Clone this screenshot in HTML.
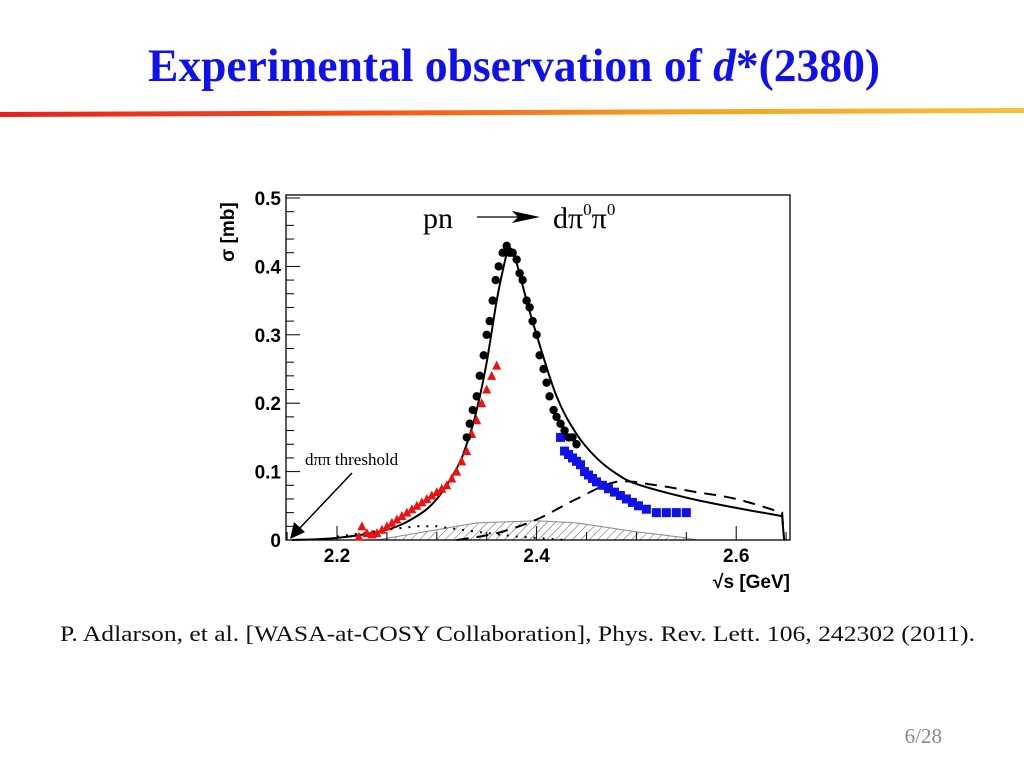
<!DOCTYPE html>
<html><head><meta charset="utf-8"><style>
html,body{margin:0;padding:0;background:#fff;width:1024px;height:768px;overflow:hidden}
svg{display:block}
</style></head><body>
<svg id="s" width="1024" height="768" xmlns="http://www.w3.org/2000/svg">
<defs>
<linearGradient id="lg" x1="0" x2="1" y1="0" y2="0">
<stop offset="0" stop-color="#e8201c"/><stop offset="0.35" stop-color="#f4501a"/><stop offset="0.65" stop-color="#f7a020"/><stop offset="1" stop-color="#f5c23a"/></linearGradient>
<pattern id="hatch" width="6" height="6" patternUnits="userSpaceOnUse" patternTransform="rotate(45)">
<line x1="0" y1="0" x2="0" y2="6" stroke="#333" stroke-width="0.8"/></pattern>
</defs>
<text x="148" y="81" textLength="732" lengthAdjust="spacingAndGlyphs" font-family="Liberation Serif, serif" font-weight="bold" font-size="47" fill="#1010ee">Experimental observation of <tspan font-style="italic">d</tspan>*(2380)</text>
<polygon points="0,112 1024,108 1024,113 0,117" fill="url(#lg)"/>
<g id="plot"></g>
<text x="60" y="641" textLength="915" lengthAdjust="spacingAndGlyphs" font-family="Liberation Serif, serif" font-size="22.5" fill="#111">P. Adlarson, et al. [WASA-at-COSY Collaboration], Phys. Rev. Lett. 106, 242302 (2011).</text>
<text x="942" y="743" text-anchor="end" font-family="Liberation Serif, serif" font-size="21" fill="#888">6/28</text>
</svg>
<script>
const blackX=[2.330,2.333,2.336,2.340,2.343,2.347,2.350,2.353,2.356,2.359,2.362,2.366,2.370,2.373,2.376,2.380,2.383,2.386,2.390,2.393,2.396,2.400,2.403,2.407,2.410,2.413,2.417,2.420,2.424,2.428,2.432,2.436,2.440];
const blackY=[0.15,0.17,0.19,0.21,0.24,0.27,0.30,0.32,0.35,0.38,0.40,0.42,0.43,0.42,0.42,0.41,0.39,0.38,0.35,0.34,0.32,0.30,0.27,0.25,0.23,0.21,0.19,0.18,0.17,0.16,0.15,0.15,0.14];
const redX=[2.222,2.225,2.23,2.235,2.24,2.245,2.25,2.255,2.26,2.265,2.27,2.275,2.28,2.285,2.29,2.295,2.30,2.305,2.31,2.315,2.32,2.325,2.33,2.335,2.34,2.345,2.35,2.355,2.36];
const redY=[0.005,0.02,0.01,0.008,0.01,0.015,0.02,0.025,0.03,0.035,0.04,0.045,0.05,0.055,0.06,0.065,0.07,0.075,0.08,0.09,0.10,0.115,0.13,0.155,0.175,0.2,0.22,0.24,0.255];
const blueX=[2.424,2.428,2.432,2.436,2.44,2.444,2.448,2.452,2.456,2.46,2.466,2.472,2.478,2.484,2.49,2.496,2.502,2.51,2.52,2.53,2.54,2.55];
const blueY=[0.15,0.13,0.125,0.12,0.115,0.11,0.10,0.095,0.09,0.085,0.08,0.075,0.07,0.065,0.06,0.055,0.05,0.045,0.04,0.04,0.04,0.04];
const fitX=[2.155,2.2,2.25,2.28,2.30,2.32,2.33,2.34,2.35,2.36,2.367,2.372,2.378,2.39,2.40,2.42,2.44,2.46,2.48,2.50,2.55,2.60,2.646];
const fitY=[0,0.003,0.015,0.035,0.06,0.105,0.14,0.19,0.26,0.35,0.40,0.425,0.415,0.35,0.30,0.21,0.155,0.12,0.097,0.082,0.062,0.047,0.035];
const dashX=[2.32,2.36,2.40,2.44,2.48,2.52,2.56,2.60,2.646];
const dashY=[0,0.01,0.03,0.06,0.085,0.08,0.07,0.06,0.04];
const dotX=[2.20,2.25,2.28,2.30,2.34,2.38,2.43];
const dotY=[0.005,0.015,0.02,0.02,0.012,0.005,0];
const hatchX=[2.24,2.30,2.34,2.40,2.44,2.50,2.55,2.56];
const hatchY=[0,0.015,0.025,0.028,0.025,0.012,0.003,0];
const yTicks=[0,0.1,0.2,0.3,0.4,0.5];
const yTickLabels=["0","0.1","0.2","0.3","0.4","0.5"];
const xTicks=[2.2,2.4,2.6];
const xTickLabels=["2.2","2.4","2.6"];

const L=286,R=790,T=195,B=540;
const sx=x=>337+(x-2.2)*998;
const sy=y=>B-y*684;
const NS="http://www.w3.org/2000/svg";
const g=document.getElementById('plot');
function mk(tag,attrs,parent){const e=document.createElementNS(NS,tag);for(const k in attrs)e.setAttribute(k,attrs[k]);(parent||g).appendChild(e);return e;}
function pts(xs,ys){return xs.map((x,i)=>sx(x).toFixed(1)+','+sy(ys[i]).toFixed(1)).join(' ');}
function smooth(xs,ys){const P=xs.map((x,i)=>[sx(x),sy(ys[i])]);let d='M'+P[0][0]+','+P[0][1];
for(let i=0;i<P.length-1;i++){const p0=P[Math.max(0,i-1)],p1=P[i],p2=P[i+1],p3=P[Math.min(P.length-1,i+2)];
const c1=[p1[0]+(p2[0]-p0[0])/6,p1[1]+(p2[1]-p0[1])/6],c2=[p2[0]-(p3[0]-p1[0])/6,p2[1]-(p3[1]-p1[1])/6];
d+=` C${c1[0].toFixed(1)},${c1[1].toFixed(1)} ${c2[0].toFixed(1)},${c2[1].toFixed(1)} ${p2[0].toFixed(1)},${p2[1].toFixed(1)}`;}return d;}

let e=mk('polygon',{points:pts(hatchX,hatchY),fill:'url(#hatch)',stroke:'#888','stroke-width':1});



e=mk('rect',{x:L,y:T,width:R-L,height:B-T,fill:'none',stroke:'#000','stroke-width':1.3});



for(let v=0;v<=0.5001;v+=0.02){const big=Math.abs(v*10-Math.round(v*10))<1e-6;mk('line',{x1:L,x2:L+(big?14:8),y1:sy(v),y2:sy(v),stroke:'#000','stroke-width':1});}
for(let v=2.15;v<=2.65;v+=0.05){const big=Math.abs(v*10-Math.round(v*10))<1e-6&&Math.round(v*10)%2==0;mk('line',{x1:sx(v),x2:sx(v),y1:B,y2:B-(big?14:8),stroke:'#000','stroke-width':1});}
yTicks.forEach((v,i)=>{e=mk('text',{x:L-5,y:sy(v)+7,'text-anchor':'end','font-family':'Liberation Sans, sans-serif','font-weight':'bold','font-size':19});e.textContent=yTickLabels[i];

});
xTicks.forEach((v,i)=>{e=mk('text',{x:sx(v),y:B+22,'text-anchor':'middle','font-family':'Liberation Sans, sans-serif','font-weight':'bold','font-size':19});e.textContent=xTickLabels[i];

});

e=mk('text',{x:0,y:0,transform:'translate(234,232) rotate(-90)','text-anchor':'middle','font-family':'Liberation Sans, sans-serif','font-weight':'bold','font-size':19});e.textContent='σ [mb]';


e=mk('text',{x:790,y:588,'text-anchor':'end','font-family':'Liberation Sans, sans-serif','font-weight':'bold','font-size':19});e.textContent='√s [GeV]';



e=mk('polyline',{points:pts(dotX,dotY),fill:'none',stroke:'#000','stroke-width':2,'stroke-dasharray':'2 7'});


e=mk('path',{d:smooth(dashX,dashY)+` L${sx(2.648)},${sy(0)}`,fill:'none',stroke:'#000','stroke-width':2,'stroke-dasharray':'12 8'});


e=mk('path',{d:smooth(fitX,fitY)+` L${sx(2.648)},${sy(0)}`,fill:'none',stroke:'#000','stroke-width':2,'stroke-linejoin':'round'});



redX.forEach((x,i)=>{const cx=sx(x),cy=sy(redY[i]);e=mk('polygon',{points:`${cx},${cy-5} ${cx-4.5},${cy+4} ${cx+4.5},${cy+4}`,fill:'#f01010'});

});
blueX.forEach((x,i)=>{e=mk('rect',{x:sx(x)-4.5,y:sy(blueY[i])-4.5,width:9,height:9,fill:'#1010e8'});

});
blackX.forEach((x,i)=>{e=mk('circle',{cx:sx(x),cy:sy(blackY[i]),r:4.2,fill:'#000'});

});

e=mk('text',{x:423,y:228,'font-family':'Liberation Serif, serif','font-size':30});e.textContent='pn';


mk('line',{x1:477,x2:520,y1:217,y2:217,stroke:'#000','stroke-width':1.3});
mk('polygon',{points:'540,217 512,211 518,217 512,223',fill:'#000'});
e=mk('text',{x:553,y:228,'font-family':'Liberation Serif, serif','font-size':30});e.innerHTML='dπ<tspan font-size="17" dy="-13">0</tspan><tspan dy="13">π</tspan><tspan font-size="17" dy="-13">0</tspan>';



e=mk('text',{x:305,y:465,'font-family':'Liberation Serif, serif','font-size':17});e.textContent='dππ threshold';


mk('line',{x1:352,x2:298,y1:473,y2:530,stroke:'#000','stroke-width':1.5});
mk('polygon',{points:'290,539 294,522 305,532',fill:'#000'});
</script>
</body></html>
